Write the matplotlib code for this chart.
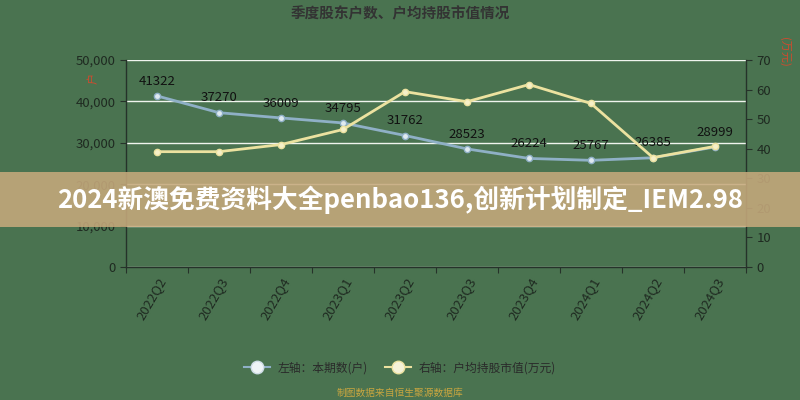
import matplotlib.pyplot as plt
from matplotlib.lines import Line2D
from matplotlib.patches import Rectangle

plt.rcParams['font.family'] = ['Noto Sans CJK SC', 'DejaVu Sans']

quarters = ['2022Q2', '2022Q3', '2022Q4', '2023Q1', '2023Q2',
            '2023Q3', '2023Q4', '2024Q1', '2024Q2', '2024Q3']
holders = [41322, 37270, 36009, 34795, 31762, 28523, 26224, 25767, 26385, 28999]
avg_value = [39.0, 39.0, 41.4, 46.5, 59.3, 55.9, 61.7, 55.3, 37.0, 40.8]

bg = '#4a7350'
blue = '#8fb0c6'
yellow = '#ece2a0'
axis_col = '#26322a'
tick_col = '#1f2a21'

fig = plt.figure(figsize=(8, 4), dpi=100, facecolor=bg)
ax = fig.add_axes([0.1575, 0.3325, 0.775, 0.5175])
ax.set_facecolor(bg)
ax2 = ax.twinx()

x = list(range(len(quarters)))

# left axis: number of holders, with value labels
ax.plot(x, holders, color=blue, lw=2, marker='o', ms=4.5,
        mfc='#dfeaf0', mec=blue, mew=1, zorder=3)
for xi, v in zip(x, holders):
    ax.annotate(str(v), (xi, v), xytext=(0, 6), textcoords='offset points',
                ha='center', va='bottom', fontsize=9.5, color='#111111')

# right axis: average holding value
ax2.plot(x, avg_value, color=yellow, lw=2, marker='o', ms=4.5,
         mfc='#f6f0c8', mec=yellow, mew=1, zorder=3)

ax.set_xlim(-0.5, len(quarters) - 0.5)
ax.set_ylim(0, 50000)
ax2.set_ylim(0, 70)
ax.set_yticks(range(0, 50001, 10000))
ax.set_yticklabels([f'{v:,}' for v in range(0, 50001, 10000)])
ax2.set_yticks(range(0, 71, 10))

ax.set_xticks([i - 0.5 for i in range(len(quarters) + 1)], minor=False)
ax.set_xticklabels([])
ax.set_xticks(x, minor=True)
ax.set_xticklabels(quarters, minor=True, rotation=60, ha='right',
                   rotation_mode='anchor', fontsize=9.5, color=tick_col)
ax.tick_params(axis='x', which='minor', length=0, pad=6)
ax.tick_params(axis='x', which='major', length=4, color=axis_col)

ax.grid(axis='y', color='#f0f4ee', lw=1)
ax.set_axisbelow(True)

for a in (ax, ax2):
    for s in a.spines.values():
        s.set_visible(False)
ax.spines['left'].set_visible(True)
ax.spines['bottom'].set_visible(True)
ax2.spines['right'].set_visible(True)
for s in (ax.spines['left'], ax.spines['bottom'], ax2.spines['right']):
    s.set_color(axis_col)
    s.set_linewidth(1)
ax.tick_params(axis='y', length=4, color=axis_col, labelcolor=tick_col, labelsize=9.5)
ax2.tick_params(axis='y', length=4, color=axis_col, labelcolor=tick_col, labelsize=9.5)

# axis unit labels in red
fig.text(0.117, 0.805, '户', color='#d24a2e', fontsize=8, rotation=90,
         ha='center', va='center')
fig.text(0.98, 0.87, '(万元)', color='#d24a2e', fontsize=8, rotation=270,
         ha='center', va='center')

fig.text(0.5, 0.967, '季度股东户数、户均持股市值情况', ha='center', va='center',
         fontsize=10.5, fontweight='bold', color='#333333')

handles = [
    Line2D([], [], color=blue, lw=1.5, marker='o', ms=9, mfc='#eef4f6', mec='#cfdde6'),
    Line2D([], [], color=yellow, lw=1.5, marker='o', ms=9, mfc='#f5f2d8', mec='#ece2a0'),
]
fig.legend(handles, ['左轴：本期数(户)', '右轴：户均持股市值(万元)'],
           loc='center', bbox_to_anchor=(0.5, 0.08), ncol=2, frameon=False,
           fontsize=8.5, labelcolor='#2a2a2a', handlelength=2.2,
           columnspacing=1.5, handletextpad=0.6)

fig.text(0.5, 0.018, '制图数据来自恒生聚源数据库', ha='center', va='center',
         fontsize=7, color='#c9a640')

# banner overlay
fig.patches.append(Rectangle((0, 0.4325), 1, 0.1375, transform=fig.transFigure,
                             facecolor='#c6a97c', alpha=0.88, edgecolor='none',
                             zorder=5))
fig.text(0.5, 0.5, '2024新澳免费资料大全penbao136,创新计划制定_IEM2.98',
         ha='center', va='center', fontsize=18.5, fontweight='bold',
         color='white', zorder=6)

fig.savefig('out.png', dpi=100, facecolor=bg)
